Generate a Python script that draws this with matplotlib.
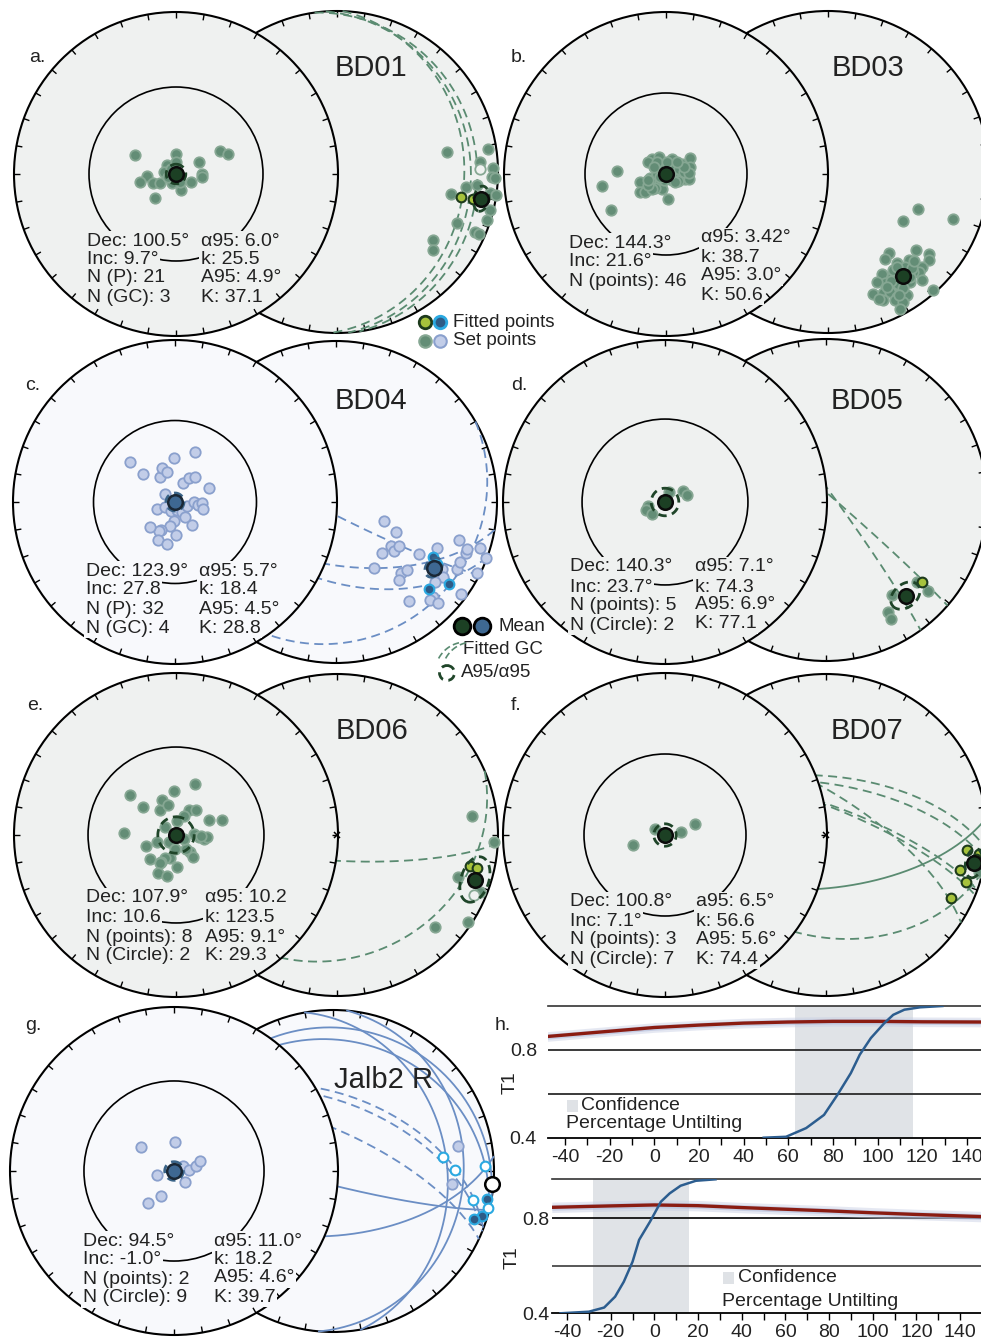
import numpy as np
import matplotlib.pyplot as plt
from matplotlib.patches import Circle, Rectangle

plt.rcParams['font.family'] = ['Liberation Sans', 'DejaVu Sans']
plt.rcParams['axes.unicode_minus'] = False

W, H = 981, 1339

# ---------------- BD01 ----------------
bd01_view_e = [-20.8, -0.2, -4.3, -0.2, -6.0, -14.5, -18.3, -11.7, -7.8, -2.0, 2.5,
               -10.3, 11.3, 13.0, 13.0, 7.7, 22.2, 26.3, 2.0, -3.8, -2.7]
bd01_view_n = [9.8, 9.8, 4.5, 6.2, 0.8, -0.8, -4.2, -4.5, -4.7, -4.7, -7.8,
               -11.8, 5.8, 0.0, -1.7, -3.8, 11.8, 10.3, -4.2, -1.7, 2.5]
bd01_dec = [79.7, 81.3, 86.0, 88.8, 88.5, 91.8, 92.2, 96.6, 95.3, 100.9, 97.8, 98.2,
            104.0, 107.7, 113.0, 113.5, 113.6, 125.3, 129.1]
bd01_inc = [31.2, 5.5, 11.8, -12.0, 3.3, 4.0, 1.9, 20.6, 13.6, 28.6, 4.4, 0.2,
            2.3, 2.4, 20.3, 7.0, 4.0, 27.8, 24.2]
bd01_fit_dec = [101.4, 101.2, 100.4]
bd01_fit_inc = [22.8, 14.8, 7.7]
bd01_gc_dipdir = [82, 86, 92]
bd01_gc_dip = [14, 18, 22]
bd01_gc_solid = [False, False, False]
bd01_mean = (100.5, 9.7)
bd01_A95 = 4.9
bd01_stats_l = ['Dec: 100.5°', 'Inc: 9.7°', 'N (P): 21', 'N (GC): 3']
bd01_stats_r = ['α95: 6.0°', 'k: 25.5', 'A95: 4.9°', 'K: 37.1']

# ---------------- BD03 ----------------
bd03_view_e = [-24.8, -32.3, -27.8, -12.8, -12.8, -10.3, -7.0, -3.3, -4.5, -7.8, -5.8,
               -2.8, -2.0, -5.3, 1.0, 3.0, 4.7, 8.0, 11.8, 11.8, 5.5, 7.5, 9.7, 11.3,
               5.8, 3.8, 2.2, -2.8, -1.2, -7.0, -9.2, -4.5, 0.5, 6.3, 9.2, 11.3, 3.0,
               -4.5, 4.7, -9.2, -2.8, 8.8, 1.3, -6.2, 5.5, -9.2]
bd03_view_n = [1.3, -6.0, -18.3, -4.0, -9.0, -9.0, 7.3, 8.5, 3.5, -2.0, -2.7, -4.0,
               -7.7, -7.0, -12.7, 7.3, 4.3, 5.2, 8.0, 3.5, 0.2, -2.7, -2.7, -2.7, -3.7,
               2.7, 4.3, 2.7, -3.2, -7.3, 6.0, 6.0, 6.0, 2.7, 1.0, 0.7, -3.2, 0.2, -4.0,
               -5.7, -1.5, 3.5, -0.7, 3.5, 6.0, -3.2]
bd03_dec = [112.2, 123.0, 110.5, 131.6, 129.0, 131.0, 143.1, 146.9, 143.0, 137.4,
            138.5, 135.3, 137.5, 152.2, 148.7, 140.8, 138.9, 152.8, 150.0, 148.2,
            159.6, 155.4, 152.6, 151.0, 147.4, 138.3, 156.6, 152.4, 149.9, 152.2,
            143.2, 146.3, 139.4, 145.0, 141.0, 148.0, 150.0, 142.0, 139.0, 153.0,
            147.0, 144.0, 136.0, 156.0, 150.0, 158.0]
bd03_inc = [39.6, 43.5, 18.4, 27.9, 20.1, 17.8, 37.0, 35.5, 29.7, 26.6, 22.6, 18.4,
            17.1, 29.2, 24.9, 19.9, 11.9, 23.7, 20.1, 16.1, 20.3, 18.6, 17.4, 12.0,
            10.2, 2.0, 14.3, 11.2, 7.3, 4.6, 16.0, 27.7, 19.7, 22.0, 25.0, 19.0, 23.0,
            18.0, 22.0, 21.0, 15.0, 28.0, 24.0, 26.0, 13.0, 16.0]
bd03_mean = (144.3, 21.6)
bd03_A95 = 3.0
bd03_stats_l = ['Dec: 144.3°', 'Inc: 21.6°', 'N (points): 46']
bd03_stats_r = ['α95: 3.42°', 'k: 38.7', 'A95: 3.0°', 'K: 50.6']

# ---------------- BD04 ----------------
bd04_view_e = [-23.0, -16.0, -7.5, -6.7, -3.8, -0.7, 10.2, 4.2, 7.0, 10.2, 17.0, -5.2,
               -9.2, -4.8, -2.2, 1.2, 3.3, 5.8, 5.0, 9.5, 11.7, 13.3, 14.2, -0.3, -2.5,
               -7.2, -8.2, -12.8, 0.5, -8.8, -4.2, 8.5]
bd04_view_n = [20.2, 14.2, 12.3, 17.3, 15.2, 22.2, 25.3, 9.3, 11.8, 12.3, 7.2, 4.0,
               -3.7, -2.3, -4.3, -4.0, -4.8, -2.0, -7.3, 0.2, -1.5, -0.3, -3.3, -9.3,
               -12.0, -14.0, -14.8, -12.7, -16.8, -19.0, -21.2, -11.5]
bd04_dec = [111.5, 116.3, 128.5, 129.9, 124.6, 138.1, 150.0, 137.5, 133.9, 141.2,
            122.1, 114.5, 122.4, 124.8, 128.8, 119.1, 115.7, 111.5, 109.9, 107.2,
            107.8, 110.4, 116.8, 126.4, 134.2, 136.2, 134.9, 143.5]
bd04_inc = [63.7, 55.8, 54.1, 51.0, 50.6, 54.8, 50.8, 40.2, 39.0, 37.8, 39.1, 31.8,
            23.0, 19.9, 22.2, 15.1, 15.5, 14.1, 14.6, 21.1, 6.4, 1.0, 1.8, 3.7, 16.8,
            16.8, 11.8, 24.8]
bd04_fit_dec = [119.3, 121.6, 125.7, 133.1]
bd04_fit_inc = [31.3, 27.4, 14.3, 21.7]
bd04_gc_dipdir = [207, 190, 200, 150]
bd04_gc_dip = [84, 58, 50, 15]
bd04_gc_solid = [False, False, False, False]
bd04_mean = (123.9, 27.8)
bd04_A95 = 4.5
bd04_stats_l = ['Dec: 123.9°', 'Inc: 27.8', 'N (P): 32', 'N (GC): 4']
bd04_stats_r = ['α95: 5.7°', 'k: 18.4', 'A95: 4.5°', 'K: 28.8']

# ---------------- BD05 ----------------
bd05_view_e = [1.8, 9.0, 11.0, -8.5, -9.7, -6.5]
bd05_view_n = [5.0, 5.3, 3.3, -2.2, -3.8, -6.0]
bd05_dec = [132.0, 131.7, 145.1, 150.8, 151.5]
bd05_inc = [25.2, 16.5, 28.7, 21.7, 16.8]
bd05_fit_dec = [130.8]
bd05_fit_inc = [22.7]
bd05_gc_dipdir = [41, 54]
bd05_gc_dip = [87, 86]
bd05_gc_solid = [False, False]
bd05_mean = (140.3, 23.7)
bd05_A95 = 6.9
bd05_stats_l = ['Dec: 140.3°', 'Inc: 23.7°', 'N (points): 5', 'N (Circle): 2']
bd05_stats_r = ['α95: 7.1°', 'k: 74.3', 'A95: 6.9°', 'K: 77.1']

# ---------------- BD06 ----------------
bd06_view_e = [-23.3, -16.5, -8.0, -7.2, -4.2, -1.0, 9.8, 6.7, 9.8, 4.2, 0.3, 16.7,
               23.3, -26.0, -15.0, -9.5, -5.5, -3.7, -0.3, -2.8, -5.3, -7.3, -8.2,
               -13.2, 0.3, -9.2, -4.7, 7.2, 8.3, 4.8, 9.2, 11.3, 13.8, 15.5, 12.7, 3.8]
bd06_view_n = [20.2, 14.2, 12.7, 17.5, 15.3, 22.3, 25.7, 12.3, 12.7, 9.3, 7.0, 7.3,
               7.8, 1.0, -5.3, -3.3, 4.0, -3.7, -7.0, -11.3, -11.7, -13.7, -14.2,
               -12.3, -16.3, -19.0, -20.8, -8.3, -11.2, -7.0, 0.5, -1.2, -2.0, -0.8,
               -0.3, -2.0]
bd06_dec = [82.0, 92.7, 109.2, 111.7, 113.8, 123.6, 133.3]
bd06_inc = [16.5, 2.4, 21.3, 5.3, -8.1, 2.8, 17.6]
bd06_fit_dec = [103.1, 103.2]
bd06_fit_inc = [16.4, 11.8]
bd06_gc_dipdir = [183, 156.5]
bd06_gc_dip = [77, 25]
bd06_gc_solid = [False, False]
bd06_mean = (107.9, 10.6)
bd06_A95 = 9.1
bd06_stats_l = ['Dec: 107.9°', 'Inc: 10.6', 'N (points): 8', 'N (Circle): 2']
bd06_stats_r = ['α95: 10.2', 'k: 123.5', 'A95: 9.1°', 'K: 29.3']

# ---------------- BD07 ----------------
bd07_view_e = [-5.0, 7.8, 15.2, -16.0]
bd07_view_n = [3.0, 1.7, 5.3, -5.2]
bd07_dec = [103.5]
bd07_inc = [2.3]
bd07_fit_dec = [96.1, 97.1, 108.7, 116.6, 99.0, 104.6]
bd07_fit_inc = [13.0, 5.0, 9.0, 14.1, 6.0, 15.0]
bd07_gc_dipdir = [5, 9, 20, 22, 33, 174, 193]
bd07_gc_dip = [60, 64, 75, 76, 70, 63, 37]
bd07_gc_solid = [False, False, False, False, False, True, False]
bd07_mean = (100.8, 7.1)
bd07_A95 = 5.6
bd07_stats_l = ['Dec: 100.8°', 'Inc: 7.1°', 'N (points): 3', 'N (Circle): 7']
bd07_stats_r = ['a95: 6.5°', 'k: 56.6', 'A95: 5.6°', 'K: 74.4']

# ---------------- Jalb2 R ----------------
jalb_view_e = [-16.5, 0.7, -8.2, 4.3, 7.3, 10.7, 12.8, 5.5, -6.5, -12.8]
jalb_view_n = [11.8, 14.3, -2.0, 2.7, 0.7, 2.3, 4.8, -5.5, -12.2, -15.8]
jalb_dec = [78.7, 96.4]
jalb_inc = [21.7, 26.4]
jalb_fit_dec = [100.4, 106.8, 108.9, 82.6, 89.5, 88.0, 101.7, 103.4]
jalb_fit_inc = [3.1, 3.4, 8.0, -31.9, -24.9, -5.9, -11.9, -1.0]
jalb_gc_dipdir = [21, 22, 25, 194, 175, 10, 15, 80, 95]
jalb_gc_dip = [51, 55, 70, 83, 57, 12, 20, 30, 20]
jalb_gc_solid = [False, False, False, True, True, True, True, True, True]
jalb_mean = (94.5, -1.0)
jalb_A95 = 4.6
jalb_stats_l = ['Dec: 94.5°', 'Inc: -1.0°', 'N (points): 2', 'N (Circle): 9']
jalb_stats_r = ['α95: 11.0°', 'k: 18.2', 'A95: 4.6°', 'K: 39.7']

# ---------------- fold tests (h) ----------------
h1_red_x = [-48, -20, 0, 20, 40, 60, 80, 100, 120, 146]
h1_red_t1 = [0.861, 0.885, 0.902, 0.913, 0.922, 0.927, 0.930, 0.930, 0.928, 0.927]
h1_cdf_x = [49, 59, 68, 76, 82, 88, 92, 97, 103, 107, 112, 119, 129]
h1_cdf = [0.0, 0.007, 0.073, 0.173, 0.325, 0.49, 0.63, 0.757, 0.87, 0.933, 0.972, 0.99, 1.0]
h1_conf = (63, 116)
h2_red_x = [-47, -20, 0, 20, 40, 60, 80, 100, 120, 150]
h2_red_t1 = [0.846, 0.852, 0.856, 0.853, 0.845, 0.838, 0.831, 0.823, 0.816, 0.807]
h2_cdf_x = [-43, -30, -23, -18, -14, -10, -7, -2, 3, 7, 12, 19, 28]
h2_cdf = [0.0, 0.012, 0.043, 0.124, 0.236, 0.385, 0.548, 0.684, 0.833, 0.895, 0.952, 0.989, 1.0]
h2_conf = (-28, 16)

GREEN = dict(bg='#eff1f0', set_fc='#638d76', set_ec='#86a793', fit_fc='#a6c23c',
             fit_ec='#1d3a1c', open_fc='#eff1f0', fit_open_fc='white',
             mean_fc='#1c4024', mean_ec='#0b0b0b', ring='#1f4529', gc='#5a8b71')
BLUE = dict(bg='#f8f9fc', set_fc='#c2cde8', set_ec='#8aa0cd', fit_fc='#2e5b86',
            fit_ec='#2ba9e1', open_fc='white', fit_open_fc='white',
            mean_fc='#3e6892', mean_ec='#1a2836', ring='#3a6488', gc='#6b8ec4')
TXT = '#222222'

fig = plt.figure(figsize=(W / 100, H / 100), dpi=100)


def ftext(x, y, s, **kw):
    return fig.text(x / W, 1 - y / H, s, **kw)


def vec(dec, inc):
    d = np.radians(np.asarray(dec, float))
    i = np.radians(np.asarray(inc, float))
    return np.cos(i) * np.sin(d), np.cos(i) * np.cos(d), np.sin(i)


def eqarea(dec, inc):
    e, n, z = vec(dec, inc)
    s = 1 / np.sqrt(1 + np.abs(z))
    return e * s, n * s


def view_xy(e_off, n_off):
    e_off = np.asarray(e_off, float)
    n_off = np.asarray(n_off, float)
    dist = np.radians(np.hypot(e_off, n_off))
    az = np.arctan2(e_off, n_off)
    r = np.sqrt(2) * np.sin(dist / 2)
    return r * np.sin(az), r * np.cos(az)


def gc_xy(dipdir, dip):
    t = np.linspace(0, np.pi, 361)
    se, sn, sz = vec(dipdir - 90, 0)
    de, dn, dz = vec(dipdir, dip)
    e = np.cos(t) * se + np.sin(t) * de
    n = np.cos(t) * sn + np.sin(t) * dn
    z = np.cos(t) * sz + np.sin(t) * dz
    s = 1 / np.sqrt(1 + z)
    return e * s, n * s


def small_circle_xy(dec, inc, radius):
    c = np.array(vec(dec, inc))
    u = np.cross(c, [0, 0, 1.0])
    u /= np.linalg.norm(u)
    v = np.cross(c, u)
    a = np.radians(radius)
    t = np.linspace(0, 2 * np.pi, 181)
    p = np.cos(a) * c[:, None] + np.sin(a) * (np.cos(t) * u[:, None] + np.sin(t) * v[:, None])
    e, n, z = p
    z = np.where(z >= 0, z, np.nan)
    s = 1 / np.sqrt(1 + z)
    return e * s, n * s


def rim(ax, ox, oy, r, bg, z):
    ax.add_patch(Circle((ox, oy), r, fc=bg, ec='black', lw=1.5, zorder=z))
    for a in np.radians(np.arange(0, 360, 10)):
        ax.plot([ox + r * np.sin(a), ox + (r - 0.037) * np.sin(a)],
                [oy + r * np.cos(a), oy + (r - 0.037) * np.cos(a)],
                color='black', lw=1.0, zorder=z + 0.1, solid_capstyle='butt')


def dots(ax, x, y, inc, fc, ec, open_fc, ms, mew, z):
    x, y, inc = np.asarray(x), np.asarray(y), np.asarray(inc, float)
    lo = inc >= 0
    ax.plot(x[lo], y[lo], 'o', ls='none', ms=ms, mfc=fc, mec=ec, mew=mew, zorder=z)
    ax.plot(x[~lo], y[~lo], 'o', ls='none', ms=ms, mfc=open_fc, mec=ec, mew=mew, zorder=z)


def stereo_panel(left, right, pal, view_e, view_n, dec, inc, fit_dec, fit_inc,
                 gc_dipdir, gc_dip, gc_solid, mean, a95, inner, cross=False,
                 right_circle=True):
    cx, cy, R = left
    rcx, rcy, rR = right
    pad = 8
    l_px, r_px = cx - R - pad, rcx + rR + pad
    t_px, b_px = cy - R - pad, cy + R + pad
    ax = fig.add_axes([l_px / W, 1 - b_px / H, (r_px - l_px) / W, (b_px - t_px) / H])
    ax.set_xlim((l_px - cx) / R, (r_px - cx) / R)
    ax.set_ylim((cy - b_px) / R, (cy - t_px) / R)
    ax.axis('off')

    # full stereonet (behind)
    ox, oy, s = (rcx - cx) / R, (cy - rcy) / R, rR / R
    rim(ax, ox, oy, s, pal['bg'], 1)
    for dd, dp, solid in zip(gc_dipdir, gc_dip, gc_solid):
        gx, gy = gc_xy(dd, dp)
        ax.plot(ox + s * gx, oy + s * gy, color=pal['gc'], lw=1.3,
                ls='-' if solid else (0, (5, 3)), zorder=2)
    if right_circle:
        sx, sy = small_circle_xy(mean[0], mean[1], a95)
        ax.plot(ox + s * sx, oy + s * sy, color=pal['ring'], lw=2.0, ls=(0, (3, 2)), zorder=3.5)
    px, py = eqarea(dec, inc)
    dots(ax, ox + s * px, oy + s * py, inc, pal['set_fc'], pal['set_ec'], pal['open_fc'], 7.5, 1.3, 3)
    if len(fit_dec):
        px, py = eqarea(fit_dec, fit_inc)
        dots(ax, ox + s * px, oy + s * py, fit_inc, pal['fit_fc'], pal['fit_ec'],
             pal['fit_open_fc'], 7, 1.5, 3.2)
    mx, my = eqarea([mean[0]], [mean[1]])
    mfc = pal['mean_fc'] if mean[1] >= 0 else 'white'
    mec = pal['mean_ec'] if mean[1] >= 0 else 'black'
    ax.plot(ox + s * mx, oy + s * my, 'o', ms=10.5, mfc=mfc, mec=mec, mew=1.8, zorder=3.6)
    if cross:
        ax.plot([ox], [oy], 'x', ms=4, color='black', mew=1.1, zorder=12)

    # centred view (front)
    rim(ax, 0, 0, 1, pal['bg'], 5)
    ax.add_patch(Circle((0, 0), inner, fc='none', ec='black', lw=1.2, zorder=6))
    vx, vy = view_xy(view_e, view_n)
    dots(ax, vx, vy, np.zeros(len(vx)), pal['set_fc'], pal['set_ec'], pal['open_fc'], 7.5, 1.3, 7)
    r0 = np.sqrt(2) * np.sin(np.radians(a95) / 2)
    t = np.linspace(0, 2 * np.pi, 121)
    ax.plot(r0 * np.sin(t), r0 * np.cos(t), color=pal['ring'], lw=2.0, ls=(0, (3, 2)), zorder=8)
    cxv, cyv = view_xy([0.0], [0.0])
    ax.plot(cxv, cyv, 'o', ms=10.5, mfc=pal['mean_fc'], mec=pal['mean_ec'], mew=1.8, zorder=9)
    return ax


def stats(pal, xl, yl, lines_l, xr, yr, lines_r):
    box = dict(boxstyle='square,pad=0.08', fc=pal['bg'], ec='none')
    for y, sline in zip(yl, lines_l):
        ftext(xl, y, sline, fontsize=14, color=TXT, va='center', ha='left', bbox=box, zorder=4)
    for y, sline in zip(yr, lines_r):
        ftext(xr, y, sline, fontsize=14, color=TXT, va='center', ha='left', bbox=box, zorder=4)


# panel a
stereo_panel((176, 174, 162), (337, 172, 161), GREEN, bd01_view_e, bd01_view_n, bd01_dec,
             bd01_inc, bd01_fit_dec, bd01_fit_inc, bd01_gc_dipdir, bd01_gc_dip, bd01_gc_solid,
             bd01_mean, bd01_A95, 0.537)
stats(GREEN, 87, [241, 259, 278, 297], bd01_stats_l, 201, [241, 259, 278, 297], bd01_stats_r)
# panel b
stereo_panel((666, 174, 162), (828, 172, 161), GREEN, bd03_view_e, bd03_view_n, bd03_dec,
             bd03_inc, [], [], [], [], [], bd03_mean, bd03_A95, 0.5)
stats(GREEN, 569, [243, 262, 282], bd03_stats_l, 701, [238, 257, 276, 295], bd03_stats_r)
# panel c
stereo_panel((175, 502, 162), (336, 502, 161), BLUE, bd04_view_e, bd04_view_n, bd04_dec,
             bd04_inc, bd04_fit_dec, bd04_fit_inc, bd04_gc_dipdir, bd04_gc_dip, bd04_gc_solid,
             bd04_mean, bd04_A95, 0.503)
stats(BLUE, 86, [571, 590, 609, 628], bd04_stats_l, 199, [571, 590, 609, 628], bd04_stats_r)
# panel d
stereo_panel((665, 502, 162), (826, 500, 161), GREEN, bd05_view_e, bd05_view_n, bd05_dec,
             bd05_inc, bd05_fit_dec, bd05_fit_inc, bd05_gc_dipdir, bd05_gc_dip, bd05_gc_solid,
             bd05_mean, bd05_A95, 0.512)
stats(GREEN, 570, [567, 587, 606, 625], bd05_stats_l, 695, [567, 587, 605, 624], bd05_stats_r)
# panel e
stereo_panel((176, 835, 162), (337, 835, 161), GREEN, bd06_view_e, bd06_view_n, bd06_dec,
             bd06_inc, bd06_fit_dec, bd06_fit_inc, bd06_gc_dipdir, bd06_gc_dip, bd06_gc_solid,
             bd06_mean, bd06_A95, 0.543, cross=True)
stats(GREEN, 86, [898, 917, 937, 956], bd06_stats_l, 205, [898, 917, 937, 956], bd06_stats_r)
# panel f
stereo_panel((665, 835, 162), (826, 835, 161), GREEN, bd07_view_e, bd07_view_n, bd07_dec,
             bd07_inc, bd07_fit_dec, bd07_fit_inc, bd07_gc_dipdir, bd07_gc_dip, bd07_gc_solid,
             bd07_mean, bd07_A95, 0.5, cross=True)
stats(GREEN, 570, [902, 921, 940, 959], bd07_stats_l, 696, [902, 921, 940, 959], bd07_stats_r)
# panel g
stereo_panel((174, 1171, 164), (333, 1171, 161), BLUE, jalb_view_e, jalb_view_n, jalb_dec,
             jalb_inc, jalb_fit_dec, jalb_fit_inc, jalb_gc_dipdir, jalb_gc_dip, jalb_gc_solid,
             jalb_mean, jalb_A95, 0.549, right_circle=False)
stats(BLUE, 83, [1241, 1260, 1279, 1298], jalb_stats_l, 214, [1241, 1260, 1278, 1297], jalb_stats_r)

# letters and site names
for lab, x, y in [('a.', 37, 57), ('b.', 519, 57), ('c.', 33, 386), ('d.', 519, 386),
                  ('e.', 35, 705), ('f.', 516, 705), ('g.', 33, 1025), ('h.', 503, 1025)]:
    ftext(x, y, lab, fontsize=14, color=TXT, ha='center', va='center')
for lab, x, y in [('BD01', 371, 68), ('BD03', 868, 68), ('BD04', 371, 401), ('BD05', 867, 401),
                  ('BD06', 372, 731), ('BD07', 867, 731), ('Jalb2 R', 383, 1080)]:
    ftext(x, y, lab, fontsize=21, color=TXT, ha='center', va='center', zorder=4)

# symbol key
key = fig.add_axes([0, 0, 1, 1], zorder=5)
key.set_xlim(0, W)
key.set_ylim(H, 0)
key.axis('off')
key.plot([425], [322], 'o', ms=9, mfc=GREEN['fit_fc'], mec=GREEN['fit_ec'], mew=2)
key.plot([440], [322], 'o', ms=9, mfc=BLUE['fit_fc'], mec=BLUE['fit_ec'], mew=2)
key.plot([425], [341], 'o', ms=9, mfc=GREEN['set_fc'], mec=GREEN['set_ec'], mew=1.5)
key.plot([440], [341], 'o', ms=9, mfc=BLUE['set_fc'], mec=BLUE['set_ec'], mew=1.5)
key.plot([462], [626], 'o', ms=12, mfc=GREEN['mean_fc'], mec='black', mew=2)
key.plot([482], [626], 'o', ms=12, mfc=BLUE['mean_fc'], mec='black', mew=2)
th = np.linspace(np.radians(208), np.radians(257), 20)
for off in (0, 7):
    key.plot(466 + off + 31 * np.cos(th), 673 + 31 * np.sin(th), color=GREEN['gc'], lw=1.2,
             ls=(0, (4, 2)))
key.add_patch(Circle((447, 673), 7.5, fc='none', ec=GREEN['ring'], lw=2, ls=(0, (3, 2))))
for s_, x, y in [('Fitted points', 453, 322), ('Set points', 453, 341), ('Mean', 498, 626),
                 ('Fitted GC', 463, 650), ('A95/α95', 461, 673)]:
    ftext(x, y, s_, fontsize=13.5, color=TXT, ha='left', va='center')


# fold test curves
def fold_axes(l, r, t, b, xlim, ylim, red_x, red_t1, cdf_x, cdf, conf, grid_cols, ypad):
    ax = fig.add_axes([l / W, 1 - b / H, (r - l) / W, (b - t) / H])
    ax.set_xlim(*xlim)
    ax.set_ylim(*ylim)
    ax.axvspan(conf[0], conf[1], color='#e0e3e7', lw=0, zorder=0)
    for yv, col in zip([0.6, 0.8], grid_cols):
        ax.axhline(yv, color=col, lw=1.3, zorder=1)
    rx = np.asarray(red_x, float)
    ry = np.asarray(red_t1, float)
    ax.fill_between(rx, ry - 0.022, ry + 0.022, color='#c7cee4', alpha=0.45, lw=0, zorder=2)
    ax.fill_between(rx, ry - 0.012, ry + 0.012, color='#aeb9da', alpha=0.55, lw=0, zorder=2)
    ax.plot(rx, ry, color='#8a1c12', lw=2.4, zorder=3)
    lo, hi = ylim
    ax.plot(cdf_x, lo + np.asarray(cdf) * (hi - lo), color='#2c5d8f', lw=1.8, zorder=4)
    for side in ('left', 'right'):
        ax.spines[side].set_visible(False)
    ax.spines['top'].set_color('#333333')
    ax.spines['top'].set_linewidth(1.2)
    ax.spines['bottom'].set_linewidth(1.3)
    ax.set_xticks(np.arange(-40, 141, 20))
    ax.set_xticks(np.arange(-40, 150, 10), minor=True)
    ax.tick_params(axis='x', which='both', direction='out', length=5, width=1,
                   labelsize=14, pad=3, colors='black', labelcolor=TXT)
    ax.set_yticks([0.4, 0.8])
    ax.set_yticklabels(['0.4', '0.8'])
    ax.tick_params(axis='y', length=0, labelsize=14, pad=ypad, labelcolor=TXT)
    ax.set_facecolor('none')
    return ax


fold_axes(548, 981, 1006, 1137.7, (-47.6, 146.3), (0.4, 1.0), h1_red_x, h1_red_t1,
          h1_cdf_x, h1_cdf, h1_conf, ['#2b2b2b', '#2b2b2b'], 8)
fold_axes(552, 981, 1179.3, 1313.3, (-46.9, 149.6), (0.4, 0.964), h2_red_x, h2_red_t1,
          h2_cdf_x, h2_cdf, h2_conf, ['#4a4a4a', '#111111'], 2)

for (x, y) in [(510, 1083), (512, 1258)]:
    ftext(x, y, 'T1', fontsize=14, color=TXT, rotation=90, ha='center', va='center')
for (sx, sy, tx, ty, px_, py_) in [(567, 1100, 581, 1105, 566, 1124),
                                    (723, 1272, 738, 1278, 722, 1301)]:
    fig.add_artist(Rectangle((sx / W, 1 - (sy + 12) / H), 11 / W, 12 / H,
                             transform=fig.transFigure, fc='#dfe2e6', ec='none'))
    ftext(tx, ty, 'Confidence', fontsize=14, color=TXT, ha='left', va='center')
    ftext(px_, py_, 'Percentage Untilting', fontsize=14, color=TXT, ha='left', va='center')

fig.savefig('out.png', dpi=100)
